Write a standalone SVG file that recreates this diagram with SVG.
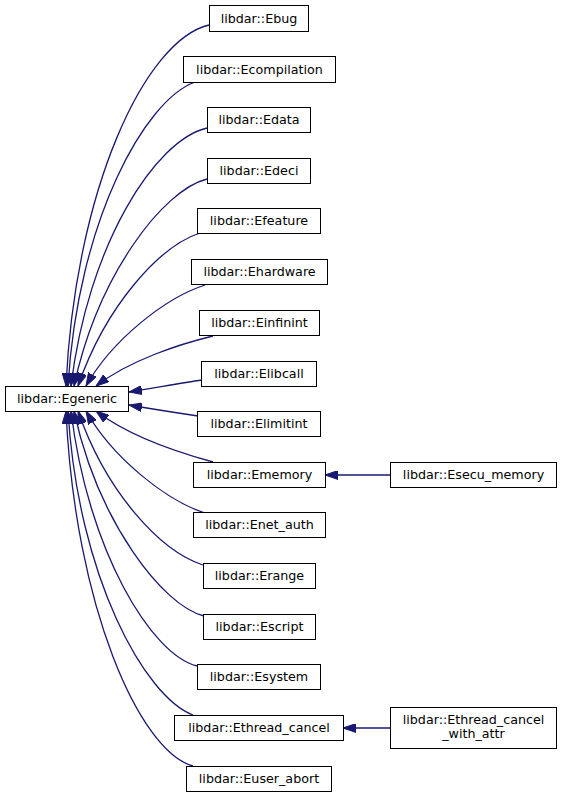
<svg xmlns="http://www.w3.org/2000/svg" width="563" height="797" viewBox="0 0 563 797">
<style>
.n rect{fill:#ffffff;stroke:#000000;stroke-width:1}
.n text{font-family:"DejaVu Sans",sans-serif;font-size:12.7px;fill:#000000;text-anchor:middle}
.e path{fill:none;stroke:#191970;stroke-width:1.3;marker-end:url(#ah)}
</style>
<defs>
<marker id="ah" markerUnits="userSpaceOnUse" markerWidth="13" markerHeight="9" refX="13" refY="4.5" orient="auto">
<path d="M0,0 L13,4.5 L0,9 z" fill="#191970" stroke="#191970" stroke-width="1"/>
</marker>
</defs>
<rect width="563" height="797" fill="#ffffff"/>
<g id="edges" class="e">
<path d="M209,25 C145,40 75,190 66,386"/>
<path d="M195,82 C145,100 78,220 68,386"/>
<path d="M207,128 C155,140 88,245 71,386"/>
<path d="M207,179 C163,190 98,275 74,386"/>
<path d="M200,233 C160,246 106,305 78,386"/>
<path d="M205,285 C165,298 112,340 86,386"/>
<path d="M213,336 C180,344 130,360 96,386"/>
<path d="M202,380 C180,383 155,388 129,392"/>
<path d="M198,416 C178,413 152,409 129,405"/>
<path d="M213,462 C180,453 130,437 96,411"/>
<path d="M205,513 C165,500 112,457 86,411"/>
<path d="M203,565 C160,551 106,492 78,411"/>
<path d="M204,616 C163,606 98,522 74,411"/>
<path d="M197,666 C152,655 88,552 71,411"/>
<path d="M193,715 C145,697 78,577 68,411"/>
<path d="M193,766 C140,752 75,607 66,411"/>
<path d="M390,475 L325,475"/>
<path d="M390,728 L343,728"/>
</g>
<g id="n_egeneric" class="n"><rect x="5.5" y="386.5" width="123" height="25"/><text x="67" y="403">libdar::Egeneric</text></g>
<g id="n_ebug" class="n"><rect x="209.5" y="5.5" width="99" height="26"/><text x="259" y="22.5">libdar::Ebug</text></g>
<g id="n_ecompilation" class="n"><rect x="183.5" y="56.5" width="152" height="26"/><text x="259.5" y="73.5">libdar::Ecompilation</text></g>
<g id="n_edata" class="n"><rect x="207.5" y="107.5" width="103" height="25"/><text x="259" y="124">libdar::Edata</text></g>
<g id="n_edeci" class="n"><rect x="207.5" y="158.5" width="103" height="25"/><text x="259" y="175">libdar::Edeci</text></g>
<g id="n_efeature" class="n"><rect x="197.5" y="208.5" width="123" height="25"/><text x="259" y="225">libdar::Efeature</text></g>
<g id="n_ehardware" class="n"><rect x="191.5" y="259.5" width="136" height="25"/><text x="259.5" y="276">libdar::Ehardware</text></g>
<g id="n_einfinint" class="n"><rect x="199.5" y="310.5" width="120" height="25"/><text x="259.5" y="327">libdar::Einfinint</text></g>
<g id="n_elibcall" class="n"><rect x="201.5" y="361.5" width="115" height="25"/><text x="259" y="378">libdar::Elibcall</text></g>
<g id="n_elimitint" class="n"><rect x="197.5" y="411.5" width="123" height="25"/><text x="259" y="428">libdar::Elimitint</text></g>
<g id="n_ememory" class="n"><rect x="193.5" y="462.5" width="132" height="25"/><text x="259.5" y="479">libdar::Ememory</text></g>
<g id="n_enet_auth" class="n"><rect x="193.5" y="512.5" width="132" height="25"/><text x="259.5" y="529">libdar::Enet_auth</text></g>
<g id="n_erange" class="n"><rect x="203.5" y="563.5" width="112" height="25"/><text x="259.5" y="580">libdar::Erange</text></g>
<g id="n_escript" class="n"><rect x="203.5" y="614.5" width="112" height="25"/><text x="259.5" y="631">libdar::Escript</text></g>
<g id="n_esystem" class="n"><rect x="197.5" y="664.5" width="123" height="25"/><text x="259" y="681">libdar::Esystem</text></g>
<g id="n_ethread_cancel" class="n"><rect x="174.5" y="715.5" width="169" height="25"/><text x="259" y="732">libdar::Ethread_cancel</text></g>
<g id="n_euser_abort" class="n"><rect x="186.5" y="766.5" width="145" height="25"/><text x="259" y="783">libdar::Euser_abort</text></g>
<g id="n_esecu_memory" class="n"><rect x="390.5" y="462.5" width="166" height="25"/><text x="473.5" y="479">libdar::Esecu_memory</text></g>
<g id="n_ethread_cancel_with_attr" class="n"><rect x="390.5" y="707.5" width="166" height="41"/><text x="473.5" y="723.5">libdar::Ethread_cancel</text><text x="473.5" y="738">_with_attr</text></g>
</svg>
